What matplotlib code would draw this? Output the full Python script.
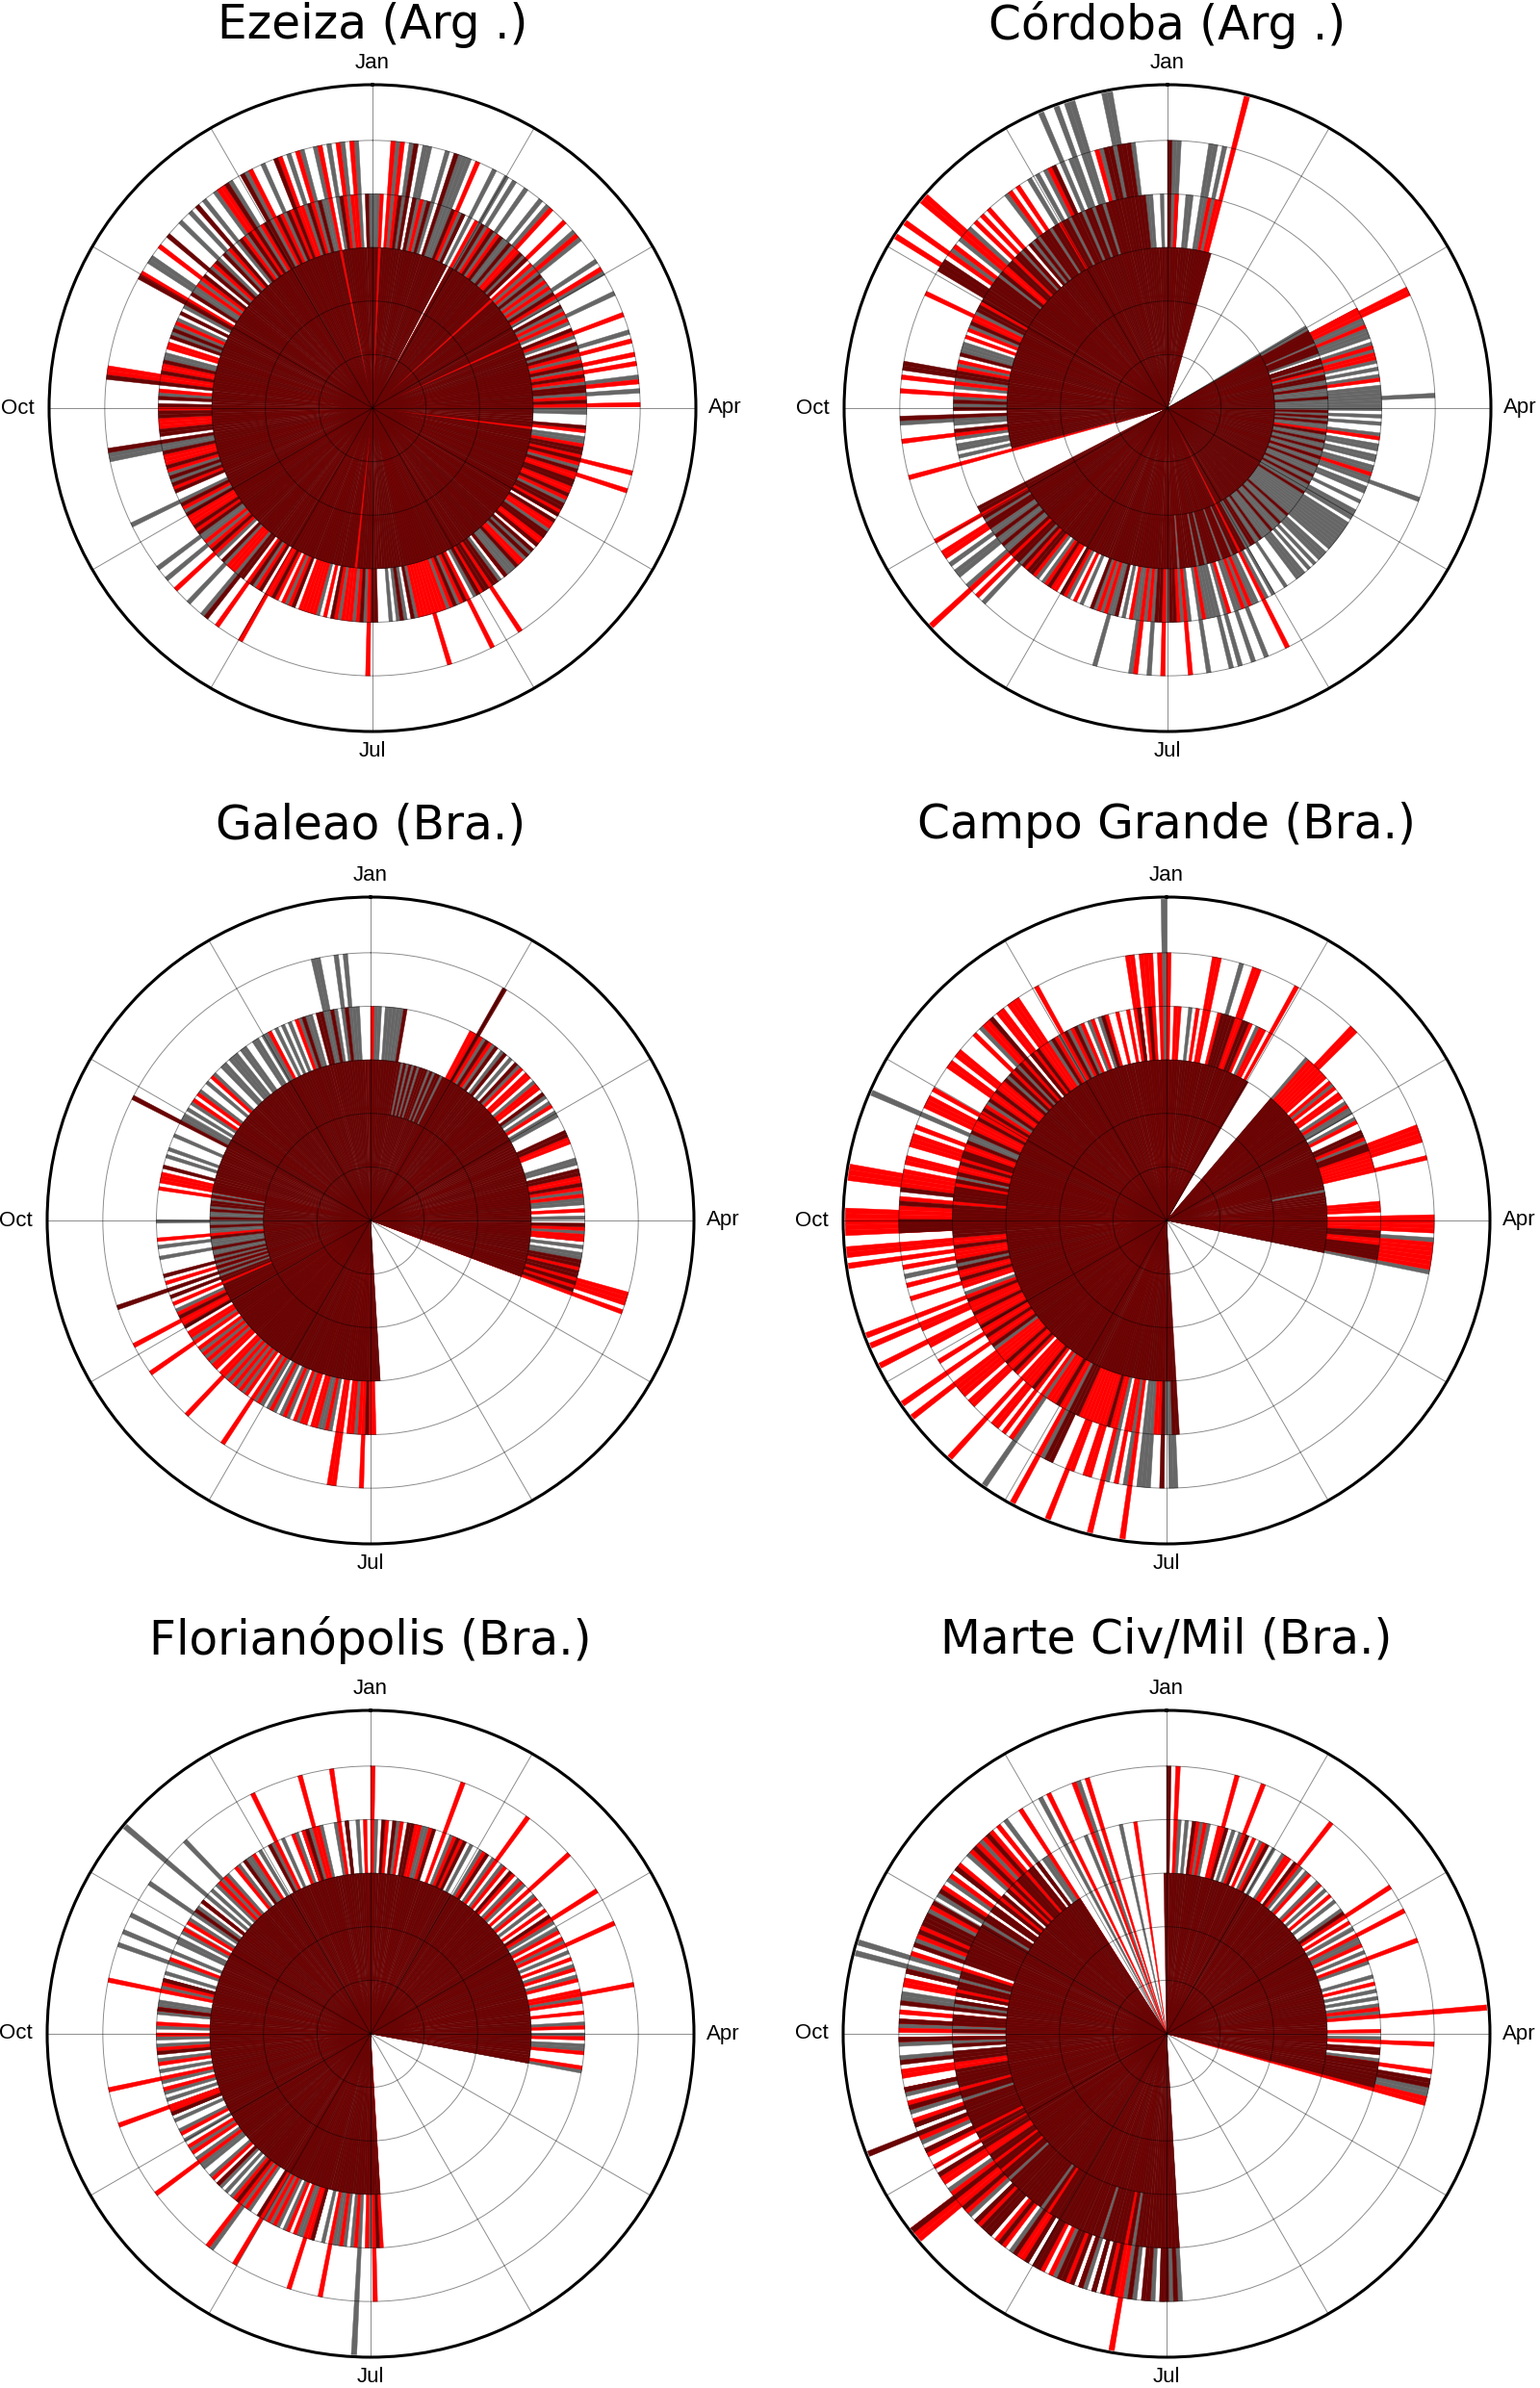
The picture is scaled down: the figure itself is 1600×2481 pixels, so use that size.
"""
Daily polar bar charts for six airports (one bar per day, Jan at top, clockwise).
Three series per station: grey, red and dark red, drawn from zero and overlaid.
"""
import numpy as np
import matplotlib
matplotlib.use("Agg")
import matplotlib.pyplot as plt

FIG_W, FIG_H = 1600, 2481
R_PX = 336          # radius of one polar panel in pixels

MAROON = "#680404"
GREY = "#666666"
RED = "#ff0000"

# month labels: (angle in degrees, text, radial position)
MONTHS = [(0, "Jan", 6.45), (90, "Apr", 6.58), (180, "Jul", 6.40), (270, "Oct", 6.63)]

# one digit per day (365 days), grouped by 5 days for readability
EZEIZA_M = """
33033 33435 34333 43353 33433 43303 34334 33433 43334 34303
33433 33343 33433 30334 33343 43334 33433 44334 33333 34303
33443 43343 34433 43344 34343 33443 34343 43334 33343 34434
43433 34334 33333 33333 34334 33333 34433 43303 33343 33333
33334 33333 43334 33433 45333 33433 34333 33434 33343 34333
43434 33433 34335 34433 34434 34333 53343 34333 33343 43333
43353 34333 33435 33433 43353 34334 35334 53343 34353 33433
43303 34333 33343
"""
EZEIZA_G = """
44000 50050 05504 05005 55004 40500 50500 50045 05000 40005
05040 40500 50040 50400 04005 00400 40005 00500 04400 00004
40000 00400 04000 00400 00000 04000 00004 44000 44400 40000
00040 00040 04000 00000 40040 40400 00004 00400 04000 00400
00000 04000 00000 04000 00500 05004 00050 45000 00004 00500
00040 40000 00550 00000 00000 00400 00000 00440 00004 04040
00400 00550 40000 40050 05000 50050 00500 05000 50000 05005
04500 50050 05004
"""
EZEIZA_R = """
00405 05000 00040 00000 00050 00004 00040 04000 00540 05040
50004 04005 00004 04000 50000 05045 05040 50040 50000 00430
04004 54005 40044 04000 44004 40044 44000 00440 00040 00050
04000 50400 40444 54444 00000 00000 00050 04044 40400 40044
44400 40404 04500 40050 00044 40000 50404 00040 44400 40000
04000 04044 40000 00044 40040 00040 05504 40000 44000 00400
00005 00004 05000 04000 00400 00405 50040 00504 00405 40050
00050 00504 50000
"""

CORDOBA_M = """
53333 33333 33333 30000 00000 00000 00000 00000 00000 00000
00000 00000 02333 33233 32233 23223 32232 22322 22323 23222
32232 23223 22322 23223 22232 22222 22232 22322 23222 23223
32233 03323 33233 33323 32333 33323 44334 43333 33333 34333
33343 33333 33433 34333 33443 43443 43343 34334 43434 40000
00000 00103 33333 33433 35343 43333 33553 33343 33333 33433
34434 55544 44343 34434 43434 34344 43443 44345 43443 44344
45545 55443 33333
"""
CORDOBA_G = """
05500 44005 50500 00000 00000 00000 00000 00000 00000 00000
00000 00000 33040 04404 44044 40340 43403 44454 44040 40343
04404 40440 45044 30430 44404 44444 44404 44043 40444 30340
03404 00440 50450 05054 44050 04040 00400 05040 54004 00450
40400 04000 40000 00040 40000 05000 05405 50540 04000 00000
00000 00000 40440 40004 50004 04004 04000 40004 44000 04000
40000 00000 50450 05000 04000 40500 04050 50500 06056 06600
50066 00504 40040
"""
CORDOBA_R = """
00400 00000 04046 00000 00000 00000 00000 00000 00000 00000
00000 00000 00045 50040 00004 04400 00040 00000 00000 00004
00000 00004 00000 00000 00000 00000 00000 00000 00000 00000
00000 50004 04000 40000 00400 00504 00050 00405 00400 00004
04000 00040 04004 40400 04004 00054 60000 00005 50050 00000
00000 00050 00000 05000 00000 00500 50004 04000 00040 40045
00040 06006 05006 60050 50500 00050 50004 00050 00000 00005
00000 00000 00000
"""

GALEAO_M = """
33333 33334 32323 23233 32323 32333 53343 34334 33343 33333
33334 33333 33333 34433 33333 33443 34333 33333 33433 33333
33443 44343 43000 00000 00000 00000 00000 00000 00000 00000
00000 00000 00000 00000 00000 00003 33343 33333 33333 33333
33333 33333 33333 33333 33333 33333 33333 33333 33343 34333
23425 23242 32232 22322 23223 22323 32323 33343 33333 33333
35333 33333 33333 33333 33333 33333 33333 33333 33333 34333
44334 33343 33333
"""
GALEAO_G = """
04404 44440 03030 30300 03030 03000 00400 40040 04004 00000
40000 40400 44000 00000 00004 40000 00040 44000 40004 04040
44000 00000 00000 00000 00000 00000 00000 00000 00000 00000
00000 00000 00000 00000 00000 00003 30000 04000 00040 44000
00400 40404 04040 40004 04040 40000 04040 40004 00000 00040
30030 30303 03343 34033 30340 33030 03030 00000 04040 00400
00440 40400 04004 00400 44044 40440 04404 40040 40400 40440
00550 40505 44000
"""
GALEAO_R = """
40000 00000 00000 00000 00000 00044 04004 00000 00000 40440
04400 00040 00000 00044 00000 00004 40404 00040 00040 44000
00004 00555 05000 00000 00000 00000 00000 00000 00000 00000
00000 00000 00000 00000 00000 00000 04405 40440 55004 00440
44040 04000 40004 05040 40404 05404 40404 04050 44004 50400
40000 04000 00000 00040 00000 00000 00404 44000 00000 00000
00000 00040 40000 04000 00000 00000 00000 04000 00004 00000
00000 00000 00000
"""

CAMPO_M = """
33333 33333 33333 44443 34433 33333 30000 00000 03333 33333
33333 33333 33333 34433 44333 33333 23333 33333 33334 43344
44300 00000 00000 00000 00000 00000 00000 00000 00000 00000
00000 00000 00000 00000 00000 00004 43353 33333 33333 33343
33333 33455 33343 33333 34333 33343 34333 33433 43343 33433
34333 33433 43433 34334 45554 44534 54434 34334 34433 43343
33433 43343 34333 43434 34353 43433 33433 34334 33333 33433
33333 33433 43333
"""
CAMPO_G = """
00000 04000 00000 05000 00000 40000 00000 00000 04000 00000
04000 00404 40400 00004 00000 00000 30000 00000 00000 50000
00500 00000 00000 00000 00000 00000 00000 00000 00000 00000
00000 00000 00000 00000 00000 00000 55400 05550 05000 50000
00000 00000 50000 00600 00000 00000 00000 04000 00000 00000
40040 00000 05000 00000 00000 00004 00000 40000 00000 04600
00000 00400 00000 04000 50000 00000 04004 00400 40040 04000
00000 00000 00006
"""
CAMPO_R = """
50440 00040 55004 00005 50040 04405 00000 00000 00445 54440
40404 40040 00040 00040 55554 44500 00000 04440 55550 05555
55000 00000 00000 00000 00000 00000 00000 00000 00000 00000
00000 00000 00000 00000 00000 00000 00004 40000 60450 06405
54456 44000 06404 44050 50554 60405 50555 60064 05404 56045
60600 45045 00054 60660 06666 65050 06665 05540 55545 00005
55054 04005 50554 00050 05500 55055 50040 50040 04004 00040
04004 05505 55050
"""

FLORIPA_M = """
33343 34333 44333 33433 33334 34333 33343 33333 34333 33333
33333 33433 33333 33333 33333 33333 33333 33333 33333 33333
33000 00000 00000 00000 00000 00000 00000 00000 00000 00000
00000 00000 00000 00000 00000 00003 43333 33333 33333 33343
33333 33333 33334 33333 34333 33343 33333 33333 33333 33333
34333 33333 33333 33343 33333 33333 43333 33343 33333 33333
33333 33334 33433 33333 33333 33343 33333 34333 33333 33433
33333 33343 33333
"""
FLORIPA_G = """
04000 00400 00004 40000 00400 00040 04000 40040 00004 04000
40040 00004 04000 40040 00400 40000 04000 00040 04004 40000
04000 00000 00000 00000 00000 00000 00000 00000 00000 00000
00000 00000 00000 00000 00000 00000 00400 60404 04400 40040
04400 04040 40400 00405 40040 40400 04004 40400 40040 04004
04040 40400 40040 04000 40400 40004 04400 04040 40050 05004
50400 04050 40006 04040 50400 04004 40040 00400 40004 04040
04000 40040 04000
"""
FLORIPA_R = """
50004 00040 00440 04000 50040 40000 00400 05004 00400 40050
04000 40050 00404 05000 40040 04004 50400 40004 00400 04000
40000 00000 00000 00000 00000 00000 00000 00000 00000 00000
00000 00000 00000 00000 00000 00004 05040 04000 40050 00004
50040 40004 04050 00040 50400 00040 40000 05004 04000 40000
00450 00040 05000 40004 00040 04000 40000 50400 00004 00000
00040 40000 00400 00004 04000 40000 04000 00050 00040 04005
40000 05000 00040
"""

MARTE_M = """
53333 33433 33333 34333 33433 33343 33333 33433 33333 33333
33333 34333 33333 33333 33333 33333 33333 33333 33333 44334
45544 40000 00000 00000 00000 00000 00000 00000 00000 00000
00000 00000 00000 00000 00000 00004 54554 45544 53435 45454
35454 55444 45545 43534 45445 55454 34534 63443 35434 43544
46454 34534 45443 34543 43534 35443 53434 34534 43354 45455
54454 35434 43534 34353 44534 43433 33000 00000 00000 00000
00000 00000 00003
"""
MARTE_G = """
00040 40004 04000 00040 40000 04000 40040 00004 04000 40040
00400 40000 04004 40040 04000 40004 04040 40000 00400 00040
00055 00000 00000 00000 00000 00000 00000 00000 00000 00000
00000 00000 00000 00000 00000 00005 05050 50005 05040 00050
54000 00500 05005 04050 00005 00050 50040 00500 40040 04405
00050 45000 50000 00050 05000 50000 05500 00060 60005 00000
05000 50005 00500 05000 50000 00504 40000 05000 00400 50000
00400 00000 00000
"""
MARTE_R = """
00500 00040 40004 50000 05004 00400 00004 40050 00400 04000
40000 00504 00050 04000 50000 00400 00004 06000 40050 00005
00000 55000 00000 00000 00000 00000 00000 00000 00000 00000
00000 00000 00000 00000 00000 00000 00000 00000 00650 50000
05005 00050 50000 55000 50500 00500 05066 65005 50050 05500
50005 00550 05005 50000 00505 05050 00005 50500 05000 50500
00500 00500 50050 00505 05050 50000 05000 00050 00005 00500
00000 04000 00000
"""

TITLES = ["Ezeiza (Arg .)", "Córdoba (Arg .)", "Galeao (Bra.)",
          "Campo Grande (Bra.)", "Florianópolis (Bra.)", "Marte Civ/Mil (Bra.)"]
SERIES = [(EZEIZA_M, EZEIZA_G, EZEIZA_R),
          (CORDOBA_M, CORDOBA_G, CORDOBA_R),
          (GALEAO_M, GALEAO_G, GALEAO_R),
          (CAMPO_M, CAMPO_G, CAMPO_R),
          (FLORIPA_M, FLORIPA_G, FLORIPA_R),
          (MARTE_M, MARTE_G, MARTE_R)]

# panel centres and title heights in pixels (from the top)
CENTERS = [(387, 424), (1213, 424), (385, 1268), (1212, 1268),
           (385, 2113), (1212, 2113)]
TITLE_Y = [26, 26, 857, 857, 1704, 1704]


def days(s):
    v = [int(c) for c in s if c.isdigit()]
    if len(v) != 365:
        print("warning: got", len(v), "days")
        v = (v + [0] * 365)[:365]
    return np.array(v, dtype=float)


fig = plt.figure(figsize=(FIG_W / 100, FIG_H / 100), dpi=100)

theta = np.arange(365) * 2 * np.pi / 365
width = 2 * np.pi / 365

for title, (sm, sg, sr), (cx, cy), ty in zip(TITLES, SERIES, CENTERS, TITLE_Y):
    ax = fig.add_axes([(cx - R_PX) / FIG_W, 1 - (cy + R_PX) / FIG_H,
                       2 * R_PX / FIG_W, 2 * R_PX / FIG_H], projection="polar")
    ax.set_theta_zero_location("N")
    ax.set_theta_direction(-1)

    # grey and red first, dark red on top
    for vals, col in [(days(sg), GREY), (days(sr), RED), (days(sm), MAROON)]:
        ax.bar(theta, vals, width=width, bottom=0, align="edge",
               color=col, edgecolor=col, linewidth=0.3)

    ax.set_ylim(0, 6.04)
    ax.set_yticks([1, 2, 3, 4, 5])
    ax.set_yticklabels([])
    ax.set_xticks(np.deg2rad(np.arange(0, 360, 30)))
    ax.set_xticklabels([])
    ax.grid(True, color="k", alpha=0.45, linewidth=0.7)
    ax.spines["polar"].set_linewidth(2.2)
    ax.spines["polar"].set_color("black")

    for ang, lab, rr in MONTHS:
        ax.text(np.deg2rad(ang), rr, lab, ha="center", va="center",
                fontsize=16, family="Liberation Sans", clip_on=False)

    fig.text(cx / FIG_W, 1 - ty / FIG_H, title, ha="center", va="center",
             fontsize=35)

fig.savefig("out.png", dpi=100)
print("Saved: out.png")
